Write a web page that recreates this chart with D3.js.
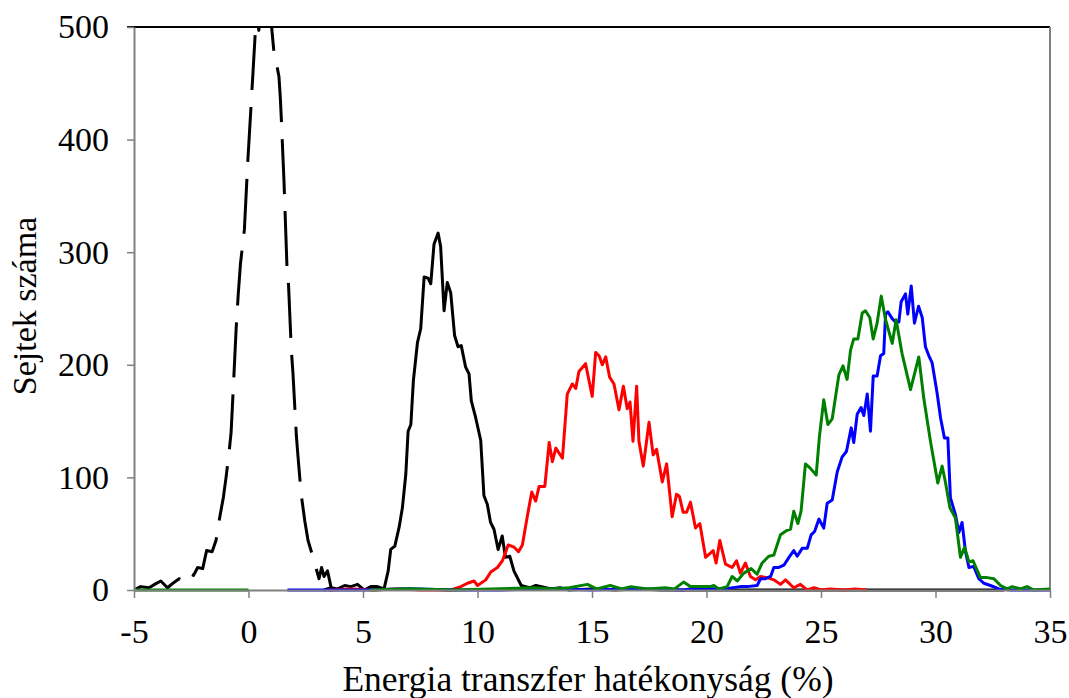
<!DOCTYPE html>
<html>
<head>
<meta charset="utf-8">
<script src="https://cdn.jsdelivr.net/npm/d3@7"></script>
<style>
  body { margin: 0; background: #ffffff; }
  .chart text { font-family: "Liberation Serif", "Times New Roman", serif; fill: #000; }
</style>
</head>
<body>
<div class="chart"></div>
<script>
var xTicks = [-5, 0, 5, 10, 15, 20, 25, 30, 35];
var yTicks = [0, 100, 200, 300, 400, 500];

// [energia transzfer %, sejtek szama]
var dashedBlack = [[-5,0],[-4.71,3],[-4.34,2],[-4.1,5],[-3.83,8],[-3.54,2],[-3.3,6],[-3.03,10],[-2.81,8],[-2.62,15],
  [-2.4,13],[-2.22,20],[-2.0,19],[-1.83,35],[-1.59,34],[-1.42,44],[-1.27,63],[-1.1,82],[-0.98,100],[-0.85,122],
  [-0.76,140],[-0.65,185],[-0.54,232],[-0.45,262],[-0.35,290],[-0.18,320],[-0.03,381],[0.16,447],[0.31,500],[0.4,506],
  [0.45,497],[0.52,512],[0.7,540],[0.9,530],[1.0,502],[1.1,480],[1.33,456],[1.39,437],[1.43,420],[1.55,363],
  [1.68,287],[1.75,270],[1.87,213],[1.94,193],[2.09,137],[2.16,119],[2.3,85],[2.46,61],[2.6,44],[2.79,31],
  [2.97,18],[3.08,10],[3.19,20],[3.3,12],[3.45,17],[3.6,3],[3.75,1]];

var solidBlack = [[3.3,0],[3.6,2],[3.9,1],[4.2,4],[4.47,3],[4.76,5],[5.05,0],[5.34,3],[5.63,3],[5.92,1],
  [6.1,17],[6.21,36],[6.39,39],[6.58,56],[6.72,73],[6.87,103],[6.97,141],[7.09,147],[7.2,186],[7.38,220],
  [7.52,232],[7.67,278],[7.84,277],[7.96,272],[8.1,307],[8.28,317],[8.39,305],[8.54,248],[8.68,273],[8.83,264],
  [9.0,226],[9.15,216],[9.29,217],[9.48,198],[9.63,192],[9.73,168],[9.92,153],[10.14,133],[10.28,84],[10.43,76],
  [10.57,60],[10.72,54],[10.9,36],[11.08,48],[11.22,29],[11.41,30],[11.59,17],[11.91,4],[12.1,3],[12.3,2],
  [12.55,4],[12.8,3],[13.2,1],[13.6,2],[14,0],[15,1],[16,0],[17,1],[18,0],[20,0],[25,0],[30,0],[33,0]];

var redSeries = [[3.5,0],[4.5,1],[5.5,0],[6.5,1],[7.5,0],[8.84,0],[9.27,3],[9.56,6],[9.85,8],[10.0,4],
  [10.36,9],[10.58,16],[10.87,20],[11.09,26],[11.34,40],[11.6,38],[11.79,34],[11.96,40],[12.18,66],[12.37,87],
  [12.54,79],[12.69,92],[12.94,92],[13.13,131],[13.27,114],[13.42,126],[13.71,117],[13.92,174],[14.14,183],[14.29,179],
  [14.43,194],[14.72,201],[15.01,172],[15.16,211],[15.31,208],[15.45,200],[15.6,207],[15.77,189],[15.96,183],[16.18,160],
  [16.37,181],[16.54,161],[16.66,167],[16.79,132],[16.95,181],[17.05,132],[17.24,110],[17.49,149],[17.67,120],[17.82,125],
  [18.07,96],[18.26,112],[18.5,65],[18.69,85],[18.82,83],[18.98,69],[19.13,69],[19.3,78],[19.52,55],[19.71,59],
  [19.96,29],[20.29,35],[20.42,24],[20.58,44],[20.83,23],[21.12,20],[21.31,26],[21.48,15],[21.7,24],[21.92,12],
  [22.14,9],[22.35,12],[22.65,11],[22.94,9],[23.23,5],[23.45,9],[23.81,2],[24.1,5],[24.39,0],[24.7,2],
  [25.0,0],[25.4,1],[26.0,0],[26.5,1],[27,0]];

var blueSeries = [[1.7,0],[3,0],[5,0],[7,1],[9,0],[11,0],[13,1],[15,0],[17,1],[19,0],
  [19.3,1],[20.76,1],[21.48,3],[21.78,3],[22.21,4],[22.36,10],[22.58,10],[22.8,12],[22.94,20],[23.16,20],
  [23.38,22],[23.6,29],[23.81,35],[23.96,30],[24.18,37],[24.4,37],[24.57,49],[24.72,52],[24.91,63],[25.12,55],
  [25.27,77],[25.49,80],[25.71,105],[25.92,118],[26.11,123],[26.32,144],[26.43,131],[26.58,156],[26.75,162],[26.87,155],
  [27.02,174],[27.16,141],[27.28,190],[27.45,190],[27.6,208],[27.74,210],[27.82,245],[27.92,247],[28.11,241],[28.25,238],
  [28.4,238],[28.5,256],[28.69,263],[28.79,245],[28.94,270],[29.08,237],[29.26,252],[29.42,242],[29.56,216],[29.71,208],
  [29.85,202],[30.07,175],[30.22,153],[30.39,135],[30.54,135],[30.65,82],[30.87,67],[31.02,51],[31.16,60],[31.31,34],
  [31.46,20],[31.67,21],[31.89,10],[32.11,6],[32.4,4],[32.77,1],[33.28,0],[35,0]];

var greenSeries = [[-5,0],[-2.5,0],[0,0],[0.01,null],[5.3,0],[7,1],[9,0],[11,1],[12.5,2],[13.2,1],
  [14.0,2],[14.8,5],[15.2,1],[15.8,4],[16.3,1],[16.7,3],[17.4,1],[18.2,2],[18.6,1],[19.0,7],
  [19.3,3],[19.74,3],[20.17,3],[20.32,4],[20.54,1],[20.9,3],[21.12,12],[21.34,8],[21.63,15],[21.95,19],
  [22.21,14],[22.43,24],[22.72,30],[22.94,31],[23.23,49],[23.52,53],[23.67,54],[23.81,70],[23.99,59],[24.13,70],
  [24.32,112],[24.54,108],[24.79,102],[24.93,136],[25.12,169],[25.3,147],[25.49,152],[25.78,191],[25.96,199],[26.14,187],
  [26.29,213],[26.43,223],[26.61,223],[26.8,246],[26.94,248],[27.13,242],[27.28,223],[27.45,237],[27.63,261],[27.82,240],
  [28.11,219],[28.28,240],[28.54,210],[28.91,178],[29.27,207],[29.49,170],[29.78,132],[30.1,95],[30.29,110],[30.44,95],
  [30.63,73],[30.87,64],[31.09,29],[31.27,38],[31.46,25],[31.64,26],[31.96,11],[32.26,11],[32.55,10],[32.84,4],
  [33.13,1],[33.35,3],[33.71,1],[34.0,3],[34.29,0],[35,1]];

var CHART = {};
CHART.width = 1069;
CHART.height = 698;
CHART.margin = {top: 27, right: 19, bottom: 108, left: 134};

CHART.series = [
  {data: dashedBlack, color: "#000000", dash: "55,17"},
  {data: solidBlack, color: "#000000", dash: null},
  {data: redSeries, color: "#ff0000", dash: null},
  {data: blueSeries, color: "#0000ff", dash: null},
  {data: greenSeries, color: "#008000", dash: null}
];

CHART.init = function(){
  var m = CHART.margin;
  var w = CHART.width - m.left - m.right;
  var h = CHART.height - m.top - m.bottom;

  var svg = d3.select(".chart").append("svg")
    .attr("width", CHART.width)
    .attr("height", CHART.height);

  var x = d3.scaleLinear().domain([-5, 35]).range([0, w]);
  var y = d3.scaleLinear().domain([0, 500]).range([h, 0]);

  svg.append("defs").append("clipPath").attr("id", "plot-clip")
    .append("rect")
    .attr("x", 0).attr("y", 0)
    .attr("width", w).attr("height", h + 2);

  var g = svg.append("g").attr("transform", "translate(" + m.left + "," + m.top + ")");

  // frame: black top, gray right
  g.append("line").attr("x1", -7).attr("x2", w).attr("y1", 0).attr("y2", 0)
    .attr("stroke", "#000").attr("stroke-width", 2);
  g.append("line").attr("x1", w).attr("x2", w).attr("y1", 0).attr("y2", h)
    .attr("stroke", "#808080").attr("stroke-width", 2);

  var line = d3.line()
    .defined(function(d){ return d[1] !== null; })
    .x(function(d){ return x(d[0]); })
    .y(function(d){ return y(d[1]); });

  var plot = g.append("g").attr("clip-path", "url(#plot-clip)");
  CHART.series.forEach(function(s){
    plot.append("path")
      .datum(s.data)
      .attr("fill", "none")
      .attr("stroke", s.color)
      .attr("stroke-width", 3)
      .attr("stroke-linejoin", "round")
      .attr("stroke-dasharray", s.dash)
      .attr("d", line);
  });

  var xAxis = g.append("g")
    .attr("transform", "translate(0," + h + ")")
    .call(d3.axisBottom(x).tickValues(xTicks).tickSize(8).tickSizeOuter(0).tickPadding(21)
      .tickFormat(d3.format("d")));
  var yAxis = g.append("g")
    .call(d3.axisLeft(y).tickValues(yTicks).tickSize(7).tickSizeOuter(0).tickPadding(18));

  [xAxis, yAxis].forEach(function(a){
    a.select(".domain").attr("stroke", "#808080").attr("stroke-width", 2);
    a.selectAll(".tick line").attr("stroke", "#808080").attr("stroke-width", 1.5);
    a.selectAll(".tick text")
      .attr("font-family", "'Liberation Serif', 'Times New Roman', serif")
      .attr("font-size", 34)
      .attr("fill", "#000");
  });
  xAxis.selectAll(".tick text").text(function(d){ return d < 0 ? "-" + Math.abs(d) : d; });

  svg.append("text")
    .attr("x", m.left + w / 2 - 4)
    .attr("y", 691)
    .attr("text-anchor", "middle")
    .attr("font-size", 35.5)
    .text("Energia transzfer hatékonyság (%)");

  svg.append("text")
    .attr("transform", "translate(36," + 306 + ") rotate(-90)")
    .attr("text-anchor", "middle")
    .attr("font-size", 34)
    .text("Sejtek száma");
};

CHART.init();
</script>
</body>
</html>
